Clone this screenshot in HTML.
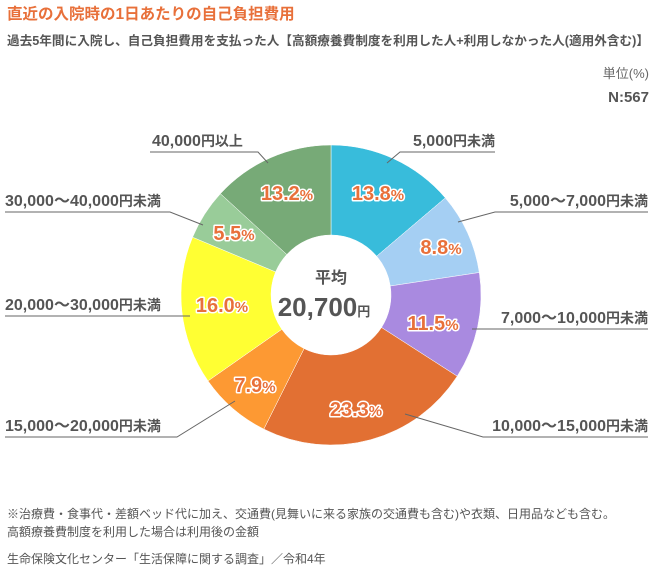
<!DOCTYPE html>
<html><head><meta charset="utf-8"><style>
body{margin:0;background:#fff;width:656px;height:568px;overflow:hidden;font-family:"Liberation Sans","Noto Sans CJK JP",sans-serif;}
</style></head><body>
<svg width="656" height="568" viewBox="0 0 656 568" xmlns="http://www.w3.org/2000/svg" font-family="Liberation Sans, Noto Sans CJK JP, sans-serif">
<text x="7" y="19" font-size="15.5" font-weight="bold" fill="#e8703a">直近の入院時の1日あたりの自己負担費用</text>
<text x="7" y="45" font-size="12.5" font-weight="bold" fill="#555" textLength="642" lengthAdjust="spacingAndGlyphs">過去5年間に入院し、自己負担費用を支払った人【高額療養費制度を利用した人+利用しなかった人(適用外含む)】</text>
<text x="649" y="78" font-size="13" fill="#666" text-anchor="end">単位(%)</text>
<text x="649" y="102" font-size="15" font-weight="bold" fill="#555" text-anchor="end">N:567</text>

<g stroke="#fff" stroke-width="0.5">
<path d="M331,145 A150,150 0 0 1 445.3,197.9 L376.7,256.2 A60,60 0 0 0 331,235Z" fill="#38bcdb"/>
<path d="M445.3,197.9 A150,150 0 0 1 479.3,272.5 L390.3,286 A60,60 0 0 0 376.7,256.2Z" fill="#a5cff3"/>
<path d="M479.3,272.5 A150,150 0 0 1 457.2,376.2 L381.5,327.5 A60,60 0 0 0 390.3,286Z" fill="#a98ae0"/>
<path d="M457.2,376.2 A150,150 0 0 1 263.8,429.1 L304.1,348.6 A60,60 0 0 0 381.5,327.5Z" fill="#e27033"/>
<path d="M263.8,429.1 A150,150 0 0 1 208,380.9 L281.8,329.3 A60,60 0 0 0 304.1,348.6Z" fill="#fd9933"/>
<path d="M208,380.9 A150,150 0 0 1 192.6,237.2 L275.6,271.9 A60,60 0 0 0 281.8,329.3Z" fill="#ffff33"/>
<path d="M192.6,237.2 A150,150 0 0 1 220.4,193.7 L286.8,254.5 A60,60 0 0 0 275.6,271.9Z" fill="#99cc99"/>
<path d="M220.4,193.7 A150,150 0 0 1 331,145 L331,235 A60,60 0 0 0 286.8,254.5Z" fill="#77aa77"/>
</g>
<text x="331" y="283" font-size="16" font-weight="bold" fill="#555" text-anchor="middle">平均</text>
<text x="324" y="316" font-size="26" font-weight="bold" fill="#555" text-anchor="middle">20,700<tspan font-size="13">円</tspan></text>

<g font-size="20" font-weight="bold" fill="#e8703a" stroke="#fff" stroke-width="3" paint-order="stroke" text-anchor="middle" stroke-linejoin="round">
<text x="378" y="200">13.8<tspan font-size="15">%</tspan></text>
<text x="441" y="254">8.8<tspan font-size="15">%</tspan></text>
<text x="433" y="330">11.5<tspan font-size="15">%</tspan></text>
<text x="356" y="416">23.3<tspan font-size="15">%</tspan></text>
<text x="255" y="392">7.9<tspan font-size="15">%</tspan></text>
<text x="222" y="312">16.0<tspan font-size="15">%</tspan></text>
<text x="234" y="240">5.5<tspan font-size="15">%</tspan></text>
<text x="287" y="200">13.2<tspan font-size="15">%</tspan></text>
</g>

<g stroke="#666" stroke-width="1" fill="none">
<polyline points="387,163 400,152 495,152"/>
<polyline points="458,222 495,212 648,212"/>
<polyline points="472,329 648,329"/>
<polyline points="405,414 483,437 648,437"/>
<polyline points="235,401 177,437 5,437"/>
<polyline points="5,316 190,316"/>
<polyline points="5,212 170,212 203,225"/>
<polyline points="150,152 258,152 268,163"/>
</g>
<g font-size="16" font-weight="bold" fill="#555">
<text x="495" y="146" text-anchor="end">5,000<tspan font-size="14">円未満</tspan></text>
<text x="648" y="206" text-anchor="end">5,000～7,000<tspan font-size="14">円未満</tspan></text>
<text x="648" y="323" text-anchor="end">7,000～10,000<tspan font-size="14">円未満</tspan></text>
<text x="648" y="431" text-anchor="end">10,000～15,000<tspan font-size="14">円未満</tspan></text>
<text x="5" y="431">15,000～20,000<tspan font-size="14">円未満</tspan></text>
<text x="5" y="310">20,000～30,000<tspan font-size="14">円未満</tspan></text>
<text x="5" y="206">30,000～40,000<tspan font-size="14">円未満</tspan></text>
<text x="152" y="146">40,000<tspan font-size="14">円以上</tspan></text>
</g>

<g font-size="12" fill="#555">
<text x="7" y="518">※治療費・食事代・差額ベッド代に加え、交通費(見舞いに来る家族の交通費も含む)や衣類、日用品なども含む。</text>
<text x="7" y="536">高額療養費制度を利用した場合は利用後の金額</text>
<text x="7" y="563">生命保険文化センター「生活保障に関する調査」／令和4年</text>
</g>
</svg>
</body></html>
